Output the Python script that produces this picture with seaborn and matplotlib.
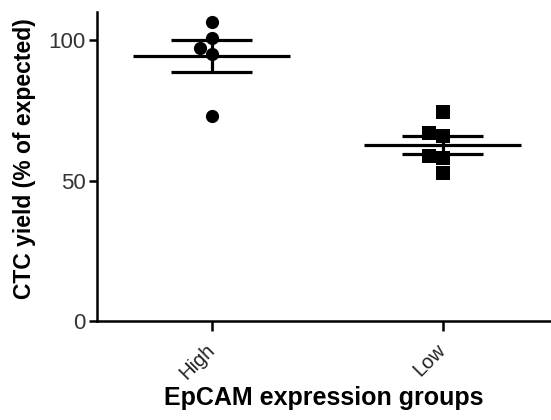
import numpy as np
import pandas as pd
import matplotlib
matplotlib.use("Agg")
import matplotlib.pyplot as plt
import seaborn as sns

# values
groups = ["High", "Low"]
high_vals = [106.4, 100.7, 97.2, 95.0, 73.0]
low_vals = [74.4, 66.9, 65.8, 58.7, 58.0, 52.7]

data = pd.DataFrame({
    "group": ["High"] * len(high_vals) + ["Low"] * len(low_vals),
    "value": high_vals + low_vals,
})

sns.set_style("ticks")
plt.rcParams["font.family"] = ["Liberation Sans", "DejaVu Sans"]

fig = plt.figure(figsize=(5.51, 4.2), dpi=100)
ax = fig.add_axes([0.176, 0.236, 0.824, 0.735])

# scatter of individual points
sns.swarmplot(data=data[data.group == "High"], x="group", y="value", order=groups,
              marker="o", color="black", size=9.5, ax=ax)
sns.swarmplot(data=data[data.group == "Low"], x="group", y="value", order=groups,
              marker="s", color="black", size=9.5, ax=ax)

# mean +/- SEM
stats = data.groupby("group")["value"].agg(["mean", "sem"]).reindex(groups)
for i, g in enumerate(groups):
    m, s = stats.loc[g, "mean"], stats.loc[g, "sem"]
    ax.hlines(m, i - 0.34, i + 0.34, color="black", lw=2.3, zorder=4)
    ax.hlines([m - s, m + s], i - 0.175, i + 0.175, color="black", lw=2.3, zorder=4)
    ax.vlines(i, m - s, m + s, color="black", lw=2.3, zorder=4)

ax.set_ylim(0, 110)
ax.set_xlim(-0.498, 1.47)
ax.set_yticks([0, 50, 100])
ax.set_yticklabels(["0", "50", "100"], fontsize=16, color="#333333")
ax.set_xticks(range(len(groups)))
ax.set_xticklabels(groups, rotation=45, ha="right", va="center", rotation_mode="anchor",
                   fontsize=14.5, color="#222222")
ax.tick_params(axis="both", width=1.8, length=6, color="black", pad=2)
ax.tick_params(axis="x", length=7, pad=12)

ax.set_xlabel("EpCAM expression groups", fontsize=18, fontweight="bold",
              color="black", labelpad=2)
ax.set_ylabel("CTC yield (% of expected)", fontsize=16.5, fontweight="bold",
              color="black")
ax.yaxis.set_label_coords(-0.135, 0.527)

for side in ["top", "right"]:
    ax.spines[side].set_visible(False)
for side in ["left", "bottom"]:
    ax.spines[side].set_linewidth(1.8)
    ax.spines[side].set_color("black")

fig.savefig("out.png", dpi=100)
